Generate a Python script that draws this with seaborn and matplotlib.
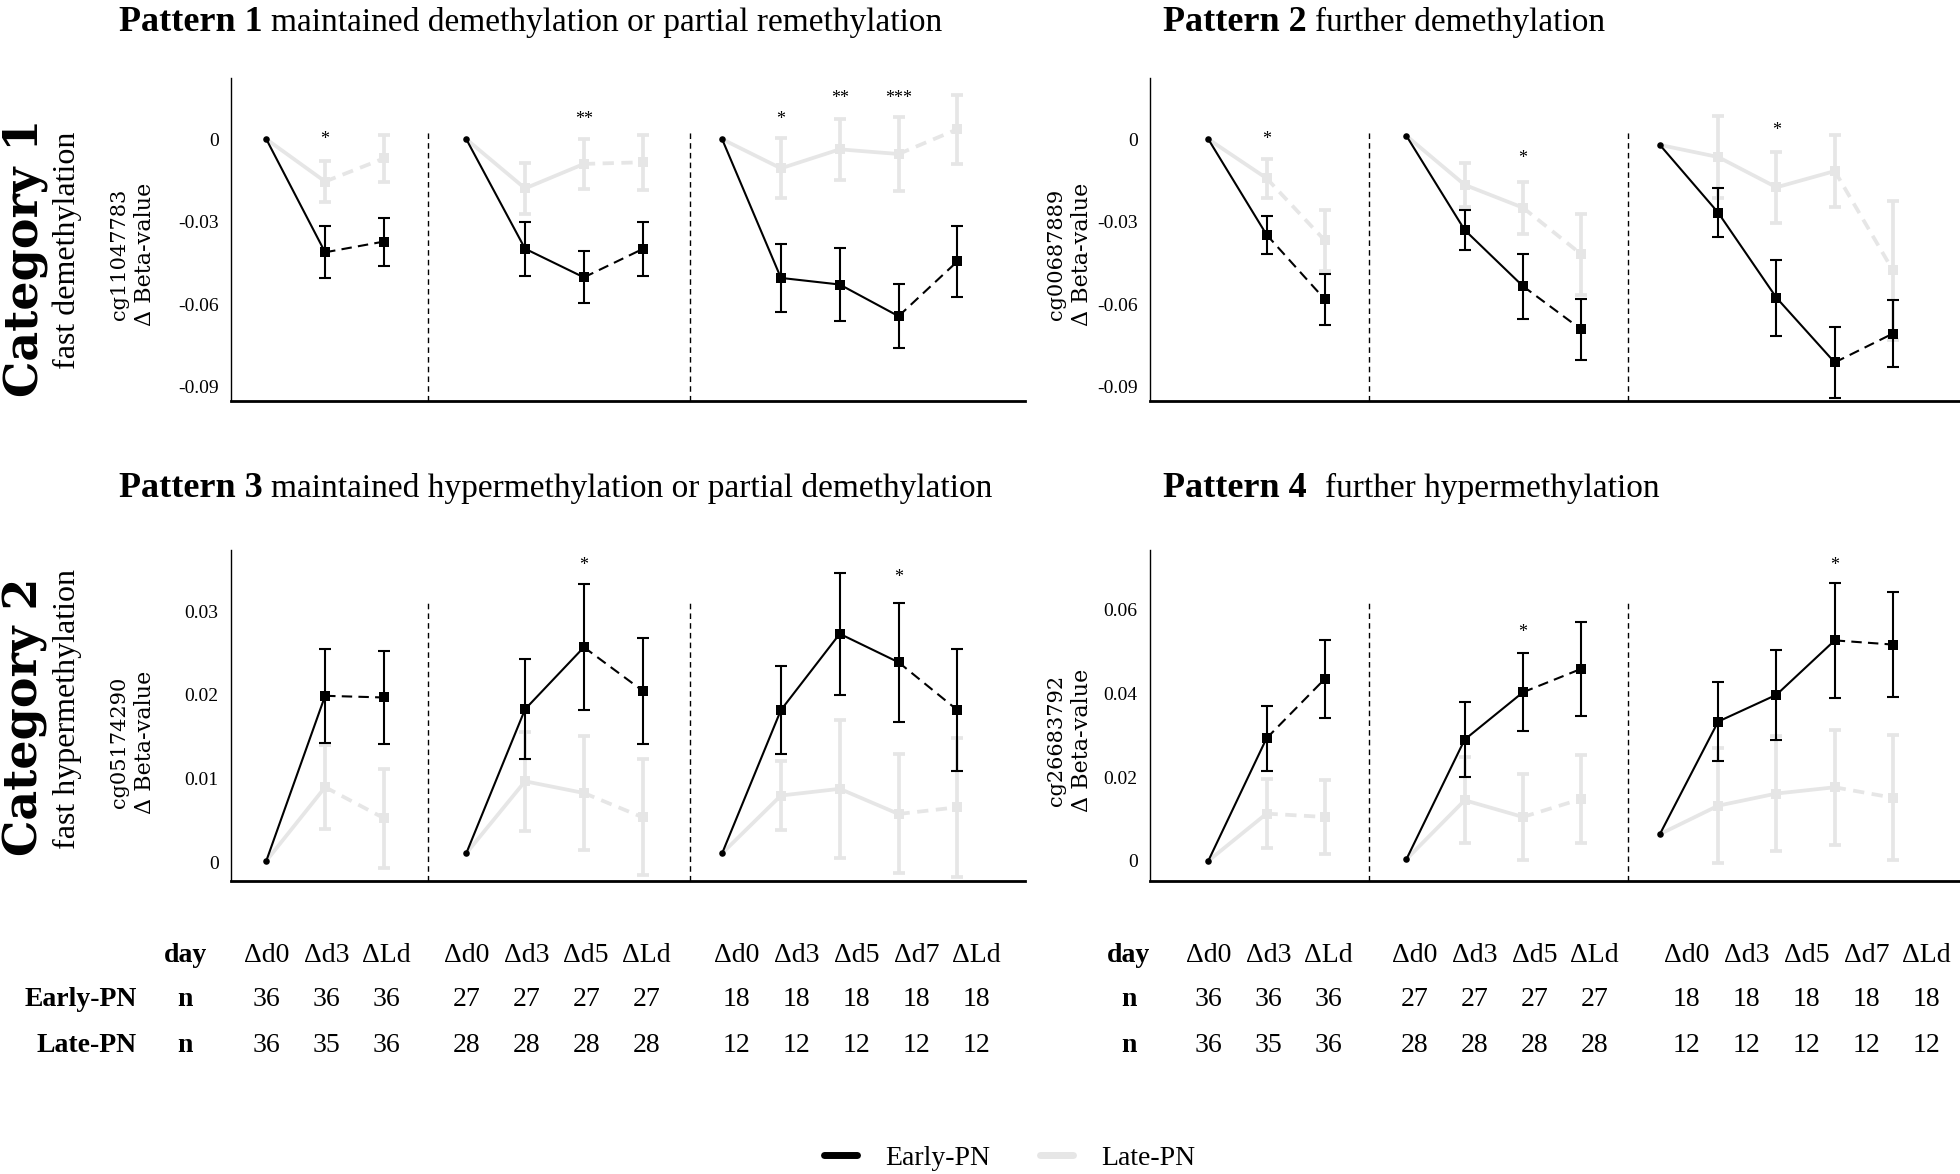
import matplotlib
matplotlib.use('Agg')
import numpy as np
import pandas as pd
import matplotlib.pyplot as plt
import seaborn as sns
from matplotlib.lines import Line2D
from matplotlib.transforms import blended_transform_factory

# timepoints (three follow-up groups)
days = ['Δd0', 'Δd3', 'ΔLd', 'Δd0', 'Δd3', 'Δd5', 'ΔLd',
        'Δd0', 'Δd3', 'Δd5', 'Δd7', 'ΔLd']
grp = [0, 0, 0, 1, 1, 1, 1, 2, 2, 2, 2, 2]
n_early = [36, 36, 36, 27, 27, 27, 27, 18, 18, 18, 18, 18]
n_late = [36, 35, 36, 28, 28, 28, 28, 12, 12, 12, 12, 12]

# Pattern 1 - cg11047783
p1_early = [0, -0.0411, -0.0372, 0, -0.0398, -0.0502, -0.0399, 0, -0.0504, -0.0528, -0.0643, -0.0444]
p1_early_err = [0, 0.0095, 0.0087, 0, 0.0098, 0.0094, 0.0098, 0, 0.0123, 0.0132, 0.0116, 0.0129]
p1_late = [0, -0.0154, -0.0070, 0, -0.0179, -0.0090, -0.0084, 0, -0.0106, -0.0037, -0.0054, 0.0036]
p1_late_err = [0, 0.0076, 0.0084, 0, 0.0092, 0.0090, 0.0100, 0, 0.0109, 0.0110, 0.0133, 0.0125]
p1_star_idx = [1, 5, 8, 9, 10]
p1_star_lab = ['*', '**', '*', '**', '***']
p1_star_y = [0.0, 0.0072, 0.0072, 0.0147, 0.0147]

# Pattern 2 - cg00687889
p2_early = [0, -0.0347, -0.0582, 0.0012, -0.0330, -0.0534, -0.0691, -0.0021, -0.0267, -0.0576, -0.0811, -0.0706]
p2_early_err = [0, 0.0069, 0.0092, 0, 0.0071, 0.0118, 0.0111, 0, 0.0089, 0.0138, 0.0130, 0.0123]
p2_late = [0, -0.0142, -0.0368, 0.0012, -0.0166, -0.0249, -0.0418, -0.0021, -0.0065, -0.0175, -0.0116, -0.0477]
p2_late_err = [0, 0.0071, 0.0112, 0, 0.0079, 0.0095, 0.0147, 0, 0.0148, 0.0129, 0.0132, 0.0254]
p2_star_idx = [1, 5, 9]
p2_star_lab = ['*', '*', '*']
p2_star_y = [0.0, -0.0071, 0.0033]

# Pattern 3 - cg05174290
p3_early = [0.0002, 0.0199, 0.0197, 0.0011, 0.0183, 0.0257, 0.0205, 0.0011, 0.0182, 0.0273, 0.0239, 0.0182]
p3_early_err = [0, 0.0056, 0.0055, 0, 0.0060, 0.0075, 0.0063, 0, 0.0052, 0.0073, 0.0071, 0.0073]
p3_late = [0.0002, 0.0090, 0.0053, 0.0011, 0.0097, 0.0083, 0.0054, 0.0011, 0.0080, 0.0088, 0.0058, 0.0066]
p3_late_err = [0, 0.0050, 0.0059, 0, 0.0059, 0.0068, 0.0069, 0, 0.0041, 0.0082, 0.0071, 0.0083]
p3_star_idx = [5, 10]
p3_star_lab = ['*', '*']
p3_star_y = [0.0355, 0.0340]

# Pattern 4 - cg26683792
p4_early = [0, 0.0293, 0.0435, 0.0004, 0.0290, 0.0403, 0.0459, 0.0064, 0.0333, 0.0397, 0.0527, 0.0517]
p4_early_err = [0, 0.0077, 0.0093, 0, 0.0089, 0.0093, 0.0113, 0, 0.0095, 0.0108, 0.0138, 0.0126]
p4_late = [0, 0.0113, 0.0105, 0.0004, 0.0145, 0.0105, 0.0148, 0.0064, 0.0132, 0.0161, 0.0176, 0.0151]
p4_late_err = [0, 0.0083, 0.0088, 0, 0.0103, 0.0102, 0.0106, 0, 0.0138, 0.0137, 0.0138, 0.0150]
p4_star_idx = [5, 10]
p4_star_lab = ['*', '*']
p4_star_y = [0.0546, 0.0707]

top_ticks = [0, -0.03, -0.06, -0.09]
top_ticklabels = ['0', '-0.03', '-0.06', '-0.09']
p3_ticks = [0, 0.01, 0.02, 0.03]
p3_ticklabels = ['0', '0.01', '0.02', '0.03']
p4_ticks = [0, 0.02, 0.04, 0.06]
p4_ticklabels = ['0', '0.02', '0.04', '0.06']

GREY = '#e6e6e6'
W, H = 1960, 1174

sns.set_style('white')
plt.rcParams['font.family'] = ['Liberation Serif', 'DejaVu Serif']
plt.rcParams['text.color'] = 'black'
plt.rcParams['ytick.color'] = 'black'
plt.rcParams['ytick.labelcolor'] = 'black'
WIDE = ['DejaVu Serif']


def positions(starts, step):
    out, prev, j = [], None, 0
    for g in grp:
        j = j + 1 if g == prev else 0
        prev = g
        out.append(starts[g] + j * step)
    return np.array(out)


x_pts = positions([0, 3.4, 7.75], 1.0)


def rect(x0, y0, x1, y1):
    return [x0 / W, 1 - y1 / H, (x1 - x0) / W, (y1 - y0) / H]


def draw_panel(ax, early, e_err, late, l_err, s_idx, s_lab, s_y,
               ylim, ticks, ticklabels, xlim):
    for vals, errs, col, lw, ms, z, dash in [
            (late, l_err, GREY, 2.7, 55, 2, (3, 2)),
            (early, e_err, 'black', 1.5, 42, 5, (5, 3))]:
        df = pd.DataFrame({'x': x_pts, 'y': vals, 'err': errs, 'grp': grp})
        segs = []
        for g, sub in df.groupby('grp'):
            idx = sub.index.tolist()
            for a, b in zip(idx[:-1], idx[1:]):
                kind = 'dashed' if b == idx[-1] else 'solid'
                for i in (a, b):
                    segs.append({'x': x_pts[i], 'y': vals[i],
                                 'seg': f'{g}-{a}', 'kind': kind})
        segs = pd.DataFrame(segs)
        sns.lineplot(data=segs, x='x', y='y', units='seg', estimator=None,
                     style='kind', dashes={'solid': '', 'dashed': dash},
                     color=col, lw=lw, sort=False, legend=False, ax=ax,
                     zorder=z)
        first = df.groupby('grp').head(1)
        rest = df.drop(first.index)
        ax.errorbar(rest.x, rest.y, yerr=rest.err, fmt='none', ecolor=col,
                    elinewidth=lw, capsize=4, capthick=lw, zorder=z)
        sns.scatterplot(data=rest, x='x', y='y', marker='s', s=ms, color=col,
                        linewidth=0, ax=ax, zorder=z + 1, legend=False)
        sns.scatterplot(data=first, x='x', y='y', marker='o', s=22, color=col,
                        linewidth=0, ax=ax, zorder=z + 1, legend=False)
    for i, lab, y in zip(s_idx, s_lab, s_y):
        ax.text(x_pts[i], y, lab, ha='center', va='center', fontsize=13)
    for xv in (2.75, 7.2):
        ax.axvline(xv, ymin=0, ymax=0.84, color='black', lw=1,
                   ls=(0, (4, 3)))
    ax.set_xlim(*xlim)
    ax.set_ylim(*ylim)
    ax.set_yticks(ticks)
    ax.set_yticklabels(ticklabels)
    ax.set_xticks([])
    ax.set_xlabel('')
    ax.set_ylabel('')
    ax.tick_params(axis='y', length=0, labelsize=14, pad=9,
                   labelcolor='black')
    sns.despine(ax=ax)
    ax.spines['left'].set_linewidth(1.0)
    ax.spines['bottom'].set_linewidth(2.0)
    ax.spines['left'].set_color('black')
    ax.spines['bottom'].set_color('black')


fig = plt.figure(figsize=(19.6, 11.74), dpi=100)
ax1 = fig.add_axes(rect(231, 78, 1025, 401))
ax2 = fig.add_axes(rect(1150, 78, 1960, 401))
ax3 = fig.add_axes(rect(231, 550, 1025, 881))
ax4 = fig.add_axes(rect(1150, 550, 1960, 881))

draw_panel(ax1, p1_early, p1_early_err, p1_late, p1_late_err,
           p1_star_idx, p1_star_lab, p1_star_y,
           (-0.0951, 0.0222), top_ticks, top_ticklabels, (-0.6, 12.9))
draw_panel(ax2, p2_early, p2_early_err, p2_late, p2_late_err,
           p2_star_idx, p2_star_lab, p2_star_y,
           (-0.0951, 0.0222), top_ticks, top_ticklabels, (-1.0, 12.9))
draw_panel(ax3, p3_early, p3_early_err, p3_late, p3_late_err,
           p3_star_idx, p3_star_lab, p3_star_y,
           (-0.0022, 0.0373), p3_ticks, p3_ticklabels, (-0.6, 12.9))
draw_panel(ax4, p4_early, p4_early_err, p4_late, p4_late_err,
           p4_star_idx, p4_star_lab, p4_star_y,
           (-0.0048, 0.0743), p4_ticks, p4_ticklabels, (-1.0, 12.9))


def fy(px):
    return 1 - px / H


# panel titles: bold "Pattern n" followed by regular description
renderer = fig.canvas.get_renderer()
for x0, y0, bold, rest, gap in [
        (119, 31, 'Pattern 1', 'maintained demethylation or partial remethylation', 8),
        (1163, 31, 'Pattern 2', 'further demethylation', 8),
        (119, 497, 'Pattern 3', 'maintained hypermethylation or partial demethylation', 8),
        (1163, 497, 'Pattern 4', 'further hypermethylation', 18)]:
    t = fig.text(x0 / W, fy(y0), bold, fontsize=26, fontweight='bold',
                 va='baseline', ha='left')
    bb = t.get_window_extent(renderer=renderer)
    fig.text((bb.x1 + gap) / W, fy(y0), rest, fontsize=24, va='baseline',
             ha='left')

# category and y-axis labels
for yc, cat, desc in [(258, 'Category 1', 'fast demethylation'),
                      (717, 'Category 2', 'fast hypermethylation')]:
    fig.text(25 / W, fy(yc), cat, rotation=90, fontsize=33, fontweight='bold',
             family=WIDE, ha='center', va='center')
    fig.text(67 / W, fy(yc - 8), desc, rotation=90, fontsize=23,
             ha='center', va='center')

for xc, yc, cg in [(119, 254, 'cg11047783'), (1056, 254, 'cg00687889'),
                   (119, 742, 'cg05174290'), (1056, 740, 'cg26683792')]:
    fig.text(xc / W, fy(yc), cg, rotation=90, fontsize=15,
             family=WIDE, ha='center', va='center')
    fig.text((xc + 26) / W, fy(yc), 'Δ Beta-value', rotation=90, fontsize=16,
             family=WIDE, ha='center', va='center')

# table of timepoints and group sizes
rows = [955, 999, 1046]
for ax, starts, step, lab_x in [(ax3, [0, 3.4, 8.0], 1.02, -1.38),
                                (ax4, [0, 3.54, 8.21], 1.03, -1.37)]:
    tr = blended_transform_factory(ax.transData, fig.transFigure)
    tx = positions(starts, step)
    for x, d, ne, nl in zip(tx, days, n_early, n_late):
        fig.text(x, fy(rows[0]), d, transform=tr, fontsize=20,
                 ha='center', va='center')
        fig.text(x, fy(rows[1]), str(ne), transform=tr, fontsize=20,
                 ha='center', va='center')
        fig.text(x, fy(rows[2]), str(nl), transform=tr, fontsize=20,
                 ha='center', va='center')
    fig.text(lab_x, fy(rows[0]), 'day', transform=tr, fontsize=20,
             fontweight='bold', ha='center', va='center')
    fig.text(lab_x, fy(rows[1]), 'n', transform=tr, fontsize=20,
             fontweight='bold', ha='center', va='center')
    fig.text(lab_x, fy(rows[2]), 'n', transform=tr, fontsize=20,
             fontweight='bold', ha='center', va='center')

fig.text(137 / W, fy(rows[1]), 'Early-PN', fontsize=20, fontweight='bold',
         ha='right', va='center')
fig.text(137 / W, fy(rows[2]), 'Late-PN', fontsize=20, fontweight='bold',
         ha='right', va='center')

handles = [Line2D([], [], color='black', lw=5),
           Line2D([], [], color=GREY, lw=5)]
fig.legend(handles, ['Early-PN', 'Late-PN'], loc='center',
           bbox_to_anchor=(0.515, fy(1158)), ncol=2, frameon=False,
           fontsize=20, handlelength=1.2, handletextpad=1.0, columnspacing=1.8)

fig.savefig('out.png', dpi=100)
